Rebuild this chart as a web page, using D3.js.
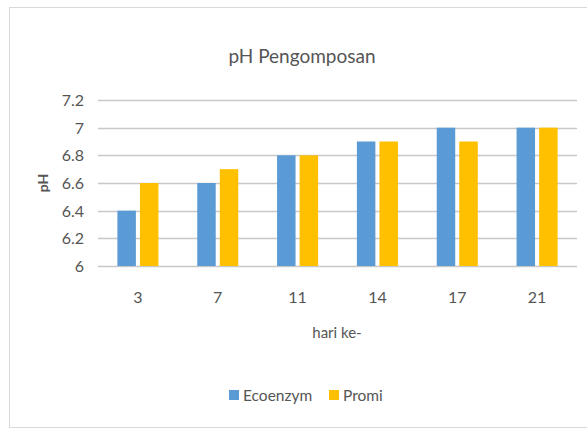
<!DOCTYPE html>
<html lang="en">
    <head>
        <meta charset="utf-8">
        <title>pH Pengomposan</title>
        <script src="https://d3js.org/d3.v7.min.js"></script>
        <style type="text/css">
        body { margin: 0; background: #fff; }
        text { font-family: Lato, "Open Sans", sans-serif; fill: #555555; }
        .title { font-size: 19px; }
        .tick-label { font-size: 16px; }
        .label { font-size: 15px; }
        .ylabel { font-size: 14px; font-weight: bold; }
        .legend { font-size: 15.5px; }
        </style>
    </head>
    <body>
    <div id="vis"></div>
    <script type="text/javascript">

        // data
        const days = ["3", "7", "11", "14", "17", "21"];
        const seriesNames = ["Ecoenzym", "Promi"];
        const ecoenzym = [6.4, 6.6, 6.8, 6.9, 7.0, 7.0];
        const promi = [6.6, 6.7, 6.8, 6.9, 6.9, 7.0];
        const yTicks = [6, 6.2, 6.4, 6.6, 6.8, 7, 7.2];
        const colors = ["#5b9bd5", "#ffc000"];

        const width = 587;
        const height = 429;
        const plotLeft = 98, plotRight = 577;
        const plotTop = 100, plotBottom = 266;

        const dataset = days.map((d, i) => ({day: d, values: [ecoenzym[i], promi[i]]}));

        const svg = d3.select("#vis")
                      .append("svg")
                      .attr("width", width)
                      .attr("height", height);

        // chart border
        svg.append("rect")
           .attr("x", 9.5).attr("y", 7.5)
           .attr("width", width + 10).attr("height", 420)
           .attr("fill", "none")
           .attr("stroke", "#d9d9d9");

        const xScale = d3.scaleBand()
                         .domain(days)
                         .range([plotLeft, plotRight])
                         .paddingInner(0.486)
                         .paddingOuter(0.243);

        const xInner = d3.scaleBand()
                         .domain(seriesNames)
                         .range([0, xScale.bandwidth()])
                         .paddingInner(0.18);

        const yScale = d3.scaleLinear()
                         .domain([6, 7.2])
                         .range([plotBottom, plotTop]);

        //gridlines
        svg.append("g")
           .selectAll("line")
           .data(yTicks)
           .enter()
           .append("line")
           .attr("x1", plotLeft)
           .attr("x2", plotRight)
           .attr("y1", d => Math.round(yScale(d)) + 0.5)
           .attr("y2", d => Math.round(yScale(d)) + 0.5)
           .attr("stroke", "#c8c8c8")
           .attr("stroke-width", 1.5);

        //left axis labels
        const leftAxis = d3.axisLeft(yScale)
                           .tickValues(yTicks)
                           .tickFormat(d => String(d))
                           .tickSize(0)
                           .tickPadding(0);
        const gy = svg.append("g")
           .attr("transform", "translate(84,0)")
           .call(leftAxis);
        gy.select(".domain").remove();
        gy.selectAll("text").attr("class", "tick-label").attr("fill", null).attr("dy", "0.35em");

        //bars
        const groups = svg.selectAll(".grp")
           .data(dataset)
           .enter()
           .append("g")
           .attr("class", "grp")
           .attr("transform", d => "translate(" + xScale(d.day) + ",0)");

        groups.selectAll("rect")
           .data(d => d.values.map((v, i) => ({name: seriesNames[i], value: v, idx: i})))
           .enter()
           .append("rect")
           .attr("x", d => xInner(d.name))
           .attr("y", d => yScale(d.value))
           .attr("width", xInner.bandwidth())
           .attr("height", d => yScale(6) - yScale(d.value))
           .attr("fill", d => colors[d.idx]);

        //bottom axis labels
        const bottomAxis = d3.axisBottom(xScale).tickSize(0).tickPadding(0);
        const gx = svg.append("g")
           .attr("transform", "translate(0,289)")
           .call(bottomAxis);
        gx.select(".domain").remove();
        gx.selectAll("text").attr("class", "tick-label").attr("fill", null).attr("dy", "0.85em");

        //title
        svg.append("text")
           .attr("x", 302)
           .attr("y", 63)
           .attr("text-anchor", "middle")
           .attr("class", "title")
           .text("pH Pengomposan");

        //x-axis label
        svg.append("text")
           .attr("x", 337)
           .attr("y", 338)
           .attr("text-anchor", "middle")
           .attr("class", "label")
           .text("hari ke-");

        //y-axis label
        svg.append("text")
           .attr("transform", "translate(48,183) rotate(-90)")
           .attr("text-anchor", "middle")
           .attr("class", "ylabel")
           .text("pH");

        //legend
        const legendX = [229, 329];
        const legend = svg.selectAll(".leg")
           .data(seriesNames)
           .enter()
           .append("g")
           .attr("class", "leg")
           .attr("transform", (d, i) => "translate(" + legendX[i] + ",390)");
        legend.append("rect")
           .attr("width", 10).attr("height", 10)
           .attr("fill", (d, i) => colors[i]);
        legend.append("text")
           .attr("x", 14)
           .attr("y", 11)
           .attr("class", "legend")
           .text(d => d);

    </script>
    </body>
</html>
